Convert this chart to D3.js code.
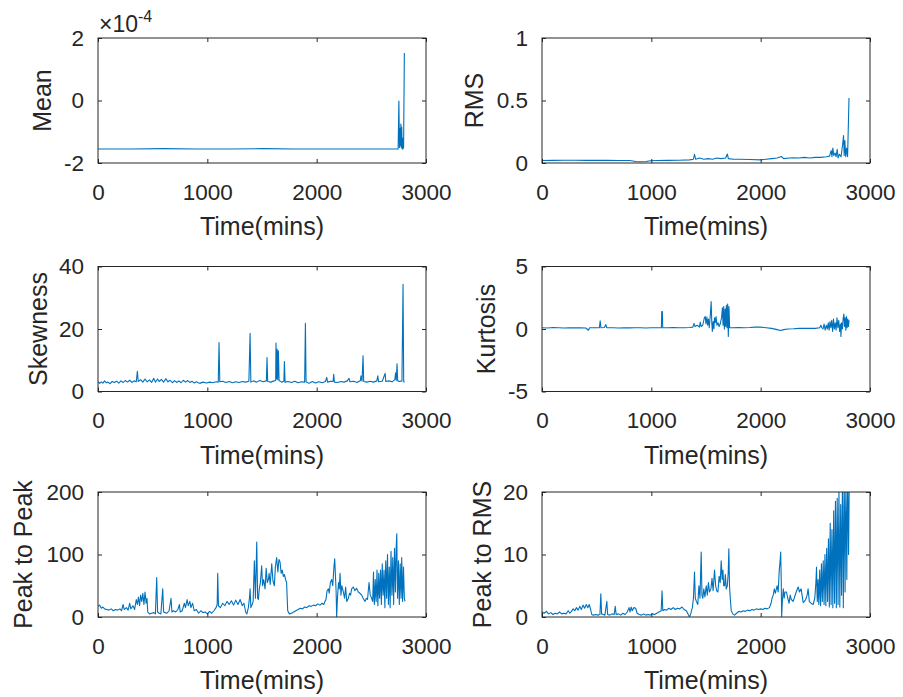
<!DOCTYPE html>
<html lang="en">
<head>
<meta charset="utf-8">
<title>signal features vs time</title>
<script src="https://d3js.org/d3.v7.min.js"></script>
<style>
  body { margin: 0; background: #fff; }
  svg { display: block; background: #fff; font-family: "Liberation Sans", Arial, sans-serif; }
</style>
</head>
<body>
<script>
// ---- data: [time (mins), value] ----
const timeTicks = [0, 1000, 2000, 3000];

// mean, in units of 1e-4
const meanTicks = [-2, 0, 2];
const meanPts = [[0,-1.55],[300,-1.55],[600,-1.54],[900,-1.55],[1200,-1.55],[1500,-1.54],[1800,-1.55],[2100,-1.55],[2400,-1.55],[2700,-1.55],[2745,-1.55],[2752,-0.02],[2757,-1.5],[2762,-0.9],[2766,-1.45],[2770,-0.75],[2774,-1.5],[2778,-0.85],[2782,-1.55],[2786,-1.2],[2790,-1.55],[2795,-1.5],[2802,1.52]];

const rmsTicks = [0, 0.5, 1];
const rmsPts = [[0,0.02],[100,0.021],[200,0.022],[300,0.022],[400,0.021],[500,0.022],[600,0.021],[700,0.02],[800,0.02],[860,0.012],[900,0.01],[950,0.012],[990,0.018],[1050,0.02],[1150,0.021],[1250,0.022],[1350,0.025],[1385,0.03],[1395,0.07],[1405,0.03],[1440,0.04],[1480,0.03],[1520,0.035],[1560,0.03],[1600,0.04],[1640,0.035],[1680,0.04],[1695,0.072],[1705,0.035],[1750,0.03],[1800,0.03],[1900,0.028],[2000,0.025],[2050,0.03],[2100,0.035],[2150,0.04],[2190,0.052],[2210,0.035],[2260,0.04],[2300,0.042],[2350,0.04],[2400,0.045],[2450,0.04],[2500,0.045],[2550,0.045],[2600,0.05],[2630,0.055],[2645,0.1],[2652,0.05],[2660,0.12],[2668,0.06],[2680,0.08],[2690,0.05],[2700,0.11],[2708,0.04],[2720,0.07],[2735,0.05],[2750,0.15],[2758,0.22],[2764,0.06],[2770,0.18],[2778,0.05],[2786,0.12],[2795,0.05],[2808,0.52]];

const skewTicks = [0, 20, 40];
const skewPts = [[0,3.2],[15,2.6],[30,3.1],[45,2.7],[60,3.4],[75,2.8],[90,3.0],[110,2.5],[130,3.2],[150,2.9],[170,3.3],[190,2.7],[210,3.4],[230,2.9],[250,3.5],[270,3.0],[290,3.6],[310,2.9],[330,3.4],[350,3.1],[360,6.5],[368,3.2],[390,3.8],[410,3.0],[430,4.0],[450,3.1],[470,3.7],[490,2.9],[510,4.2],[525,3.0],[545,4.0],[560,3.2],[580,3.9],[600,3.0],[620,4.1],[640,3.1],[660,3.6],[680,2.8],[700,3.5],[720,2.9],[740,3.4],[760,2.8],[780,3.6],[800,3.0],[820,3.5],[840,2.9],[860,3.3],[880,2.7],[900,3.1],[930,2.6],[960,3.0],[990,2.7],[1020,3.0],[1050,2.8],[1080,3.1],[1100,3.0],[1107,15.7],[1114,3.1],[1140,3.3],[1170,2.9],[1200,3.2],[1230,2.8],[1260,3.1],[1290,2.9],[1320,3.2],[1350,3.0],[1380,3.3],[1391,18.6],[1398,3.0],[1420,3.4],[1450,3.0],[1480,3.5],[1510,3.1],[1540,3.4],[1546,10.9],[1552,3.2],[1580,3.0],[1610,3.4],[1625,3.5],[1628,15.5],[1633,4],[1639,13.5],[1644,3.8],[1650,13],[1656,3.5],[1680,3.0],[1700,3.3],[1705,9.6],[1711,3.0],[1740,3.2],[1770,2.9],[1800,3.3],[1830,2.8],[1860,3.1],[1890,3.0],[1897,21.8],[1903,3.1],[1930,2.6],[1960,3.2],[1990,2.7],[2020,3.1],[2050,2.8],[2080,3.2],[2092,4.5],[2100,3.0],[2130,3.3],[2150,3.2],[2156,5.5],[2162,3.0],[2190,2.9],[2220,3.2],[2250,3.0],[2280,3.4],[2296,4.2],[2305,3.1],[2340,3.3],[2370,2.9],[2400,3.5],[2405,5.0],[2415,3.3],[2424,11.4],[2430,3.2],[2460,3.0],[2490,3.3],[2520,3.0],[2550,3.4],[2559,5.0],[2566,3.1],[2600,3.3],[2626,5.8],[2632,3.2],[2660,3.4],[2690,3.1],[2715,3.8],[2722,6.0],[2728,3.5],[2735,8.9],[2741,3.4],[2760,3.2],[2780,3.4],[2790,34.3],[2796,3.1],[2805,3.0]];

const kurtTicks = [-5, 0, 5];
const kurtPts = [[0,0.1],[50,0.08],[100,0.12],[150,0.1],[200,0.08],[250,0.1],[300,0.09],[350,0.1],[400,0.08],[425,-0.1],[435,0.1],[480,0.1],[525,0.1],[532,0.65],[539,0.1],[570,0.12],[584,0.35],[592,0.1],[650,0.1],[700,0.08],[750,0.1],[800,0.09],[850,0.1],[900,0.1],[950,0.08],[1000,0.1],[1050,0.1],[1092,0.1],[1095,1.4],[1101,1.4],[1104,0.1],[1150,0.1],[1200,0.12],[1250,0.1],[1300,0.1],[1350,0.12],[1380,0.15],[1390,0.45],[1400,0.2],[1420,0.3],[1440,0.15],[1447,0.55],[1455,0.2],[1470,0.3],[1485,0.9],[1493,1.0],[1500,0.4],[1508,0.95],[1515,0.3],[1522,0.8],[1530,0.1],[1540,1.2],[1547,2.2],[1553,0.5],[1558,-0.2],[1565,0.6],[1572,0.0],[1578,0.9],[1585,0.5],[1592,1.0],[1600,0.3],[1610,0.5],[1620,0.2],[1630,0.4],[1642,0.9],[1650,1.7],[1656,0.3],[1662,1.8],[1668,0.0],[1675,1.6],[1680,0.2],[1686,1.9],[1692,0.1],[1698,2.0],[1704,-0.6],[1710,1.8],[1716,0.1],[1740,0.1],[1800,0.12],[1850,0.1],[1900,0.12],[1950,0.15],[2000,0.15],[2050,0.1],[2100,0.05],[2150,-0.05],[2180,-0.12],[2210,-0.05],[2250,0.0],[2300,0.02],[2350,0.05],[2400,0.05],[2450,0.06],[2500,0.05],[2540,0.1],[2550,0.3],[2560,0.1],[2570,0.0],[2580,0.4],[2590,-0.1],[2600,0.3],[2610,0.0],[2618,0.5],[2626,-0.1],[2634,0.6],[2642,0.1],[2650,0.7],[2658,-0.2],[2666,0.8],[2674,0.0],[2682,0.5],[2690,-0.1],[2698,0.9],[2706,0.1],[2714,0.7],[2722,-0.2],[2730,0.4],[2734,-0.6],[2740,0.5],[2748,0.0],[2755,0.9],[2761,1.2],[2767,0.2],[2773,0.9],[2779,-0.1],[2785,1.0],[2791,0.1],[2797,0.8],[2803,0.2],[2808,0.7]];

const p2pTicks = [0, 100, 200];
const p2pPts = [[0,17],[15,19],[30,14],[45,16],[60,13],[80,12],[100,11],[120,13],[140,10],[160,12],[180,11],[200,13],[215,10],[230,20],[240,12],[260,15],[275,11],[290,22],[300,13],[320,18],[335,12],[350,28],[360,20],[370,32],[380,18],[390,35],[400,25],[410,38],[420,20],[430,40],[440,22],[448,30],[455,8],[470,5],[490,6],[510,7],[525,5],[537,63],[545,8],[560,6],[575,5],[592,45],[600,8],[615,7],[630,6],[650,10],[668,30],[676,8],[690,10],[710,8],[730,12],[745,20],[752,8],[770,10],[790,22],[800,15],[815,28],[825,18],[840,25],[850,15],[865,22],[880,10],[900,12],[920,6],[940,10],[960,7],[980,8],[1000,5],[1020,9],[1040,6],[1060,10],[1080,15],[1090,20],[1095,70],[1102,18],[1120,15],[1140,22],[1160,18],[1180,25],[1200,20],[1220,26],[1240,19],[1260,27],[1280,20],[1300,28],[1320,18],[1335,22],[1350,8],[1362,5],[1375,15],[1385,30],[1391,45],[1398,15],[1410,20],[1419,25],[1430,90],[1440,30],[1452,120],[1460,30],[1467,28],[1475,45],[1485,55],[1497,82],[1505,50],[1515,60],[1528,45],[1538,78],[1548,55],[1558,60],[1565,70],[1575,52],[1589,85],[1600,58],[1613,50],[1622,80],[1634,95],[1645,72],[1655,92],[1665,88],[1675,70],[1685,75],[1695,65],[1705,68],[1716,60],[1725,55],[1735,10],[1750,5],[1770,6],[1790,8],[1810,10],[1830,12],[1850,14],[1870,13],[1890,16],[1910,15],[1930,18],[1950,17],[1970,19],[1990,18],[2010,21],[2030,19],[2050,22],[2065,20],[2076,25],[2085,28],[2095,42],[2107,45],[2115,38],[2125,55],[2137,60],[2147,50],[2158,80],[2165,93],[2172,65],[2178,40],[2183,0],[2190,30],[2200,55],[2207,45],[2214,70],[2222,35],[2230,50],[2244,40],[2255,30],[2265,48],[2275,25],[2290,30],[2300,38],[2310,35],[2320,45],[2335,48],[2350,42],[2365,46],[2381,40],[2395,38],[2412,35],[2425,30],[2442,25],[2455,30],[2465,28],[2479,55],[2490,35],[2503,30],[2512,25],[2520,72],[2524,30],[2528,20],[2532,45],[2536,60],[2540,35],[2544,25],[2548,50],[2552,75],[2556,40],[2560,18],[2564,45],[2568,70],[2572,40],[2576,30],[2580,55],[2584,75],[2588,45],[2592,20],[2596,60],[2600,85],[2604,50],[2608,35],[2612,55],[2616,75],[2620,40],[2624,15],[2628,60],[2632,90],[2636,55],[2640,30],[2644,70],[2648,100],[2652,60],[2656,20],[2660,50],[2664,80],[2668,45],[2672,15],[2676,65],[2680,105],[2684,70],[2688,35],[2692,60],[2696,95],[2700,55],[2704,20],[2708,70],[2712,110],[2716,75],[2720,40],[2724,80],[2728,115],[2733,133],[2736,70],[2740,30],[2744,60],[2748,90],[2752,50],[2756,20],[2760,55],[2764,85],[2768,55],[2772,30],[2775,65],[2778,95],[2782,60],[2786,25],[2790,50],[2794,80],[2798,55],[2802,30],[2808,25]];

const p2rTicks = [0, 10, 20];
const p2rPts = [[0,0.8],[20,0.6],[40,0.9],[60,0.5],[80,0.7],[100,0.4],[120,0.6],[140,0.5],[160,0.8],[180,0.5],[200,0.6],[220,0.5],[240,1.0],[255,0.6],[270,0.9],[285,1.3],[300,1.0],[315,1.5],[330,1.1],[345,1.7],[360,1.2],[375,1.9],[390,1.4],[405,2.0],[420,1.5],[432,2.0],[445,1.2],[455,0.4],[470,0.3],[490,0.4],[510,0.3],[530,0.4],[538,3.7],[545,0.5],[560,0.4],[575,0.3],[593,2.5],[600,0.4],[620,0.3],[640,0.5],[660,0.4],[670,1.7],[678,0.4],[700,0.5],[720,0.3],[740,0.6],[760,0.4],[780,0.8],[796,1.5],[805,0.8],[815,1.6],[825,1.0],[840,1.5],[857,1.4],[870,0.6],[890,0.4],[910,0.3],[930,0.5],[950,0.3],[970,0.4],[990,0.3],[1010,0.5],[1030,0.4],[1050,0.6],[1070,0.8],[1090,1.0],[1098,4.2],[1105,1.0],[1120,1.2],[1140,1.1],[1160,1.4],[1180,1.2],[1200,1.5],[1220,1.2],[1240,1.4],[1260,1.3],[1280,1.6],[1300,1.2],[1320,1.0],[1335,0.5],[1349,0.0],[1360,0.5],[1375,1.5],[1385,3.0],[1395,7.2],[1402,3],[1412,2.5],[1425,2.0],[1435,5],[1445,3],[1456,10.4],[1463,3.5],[1471,3.0],[1480,4.5],[1490,3.2],[1502,5.0],[1512,3.5],[1522,5.5],[1532,4.0],[1545,4.5],[1555,6.2],[1565,4.2],[1578,7.5],[1588,5],[1598,4.2],[1609,4.0],[1620,6.5],[1630,5.5],[1639,9.0],[1648,6.0],[1655,7.5],[1662,5],[1670,5.0],[1677,6.8],[1685,4.5],[1695,5],[1703,7],[1709,10.9],[1715,5],[1722,3],[1731,1.0],[1745,0.5],[1761,0.3],[1780,0.6],[1800,0.9],[1820,0.8],[1840,1.0],[1860,0.9],[1880,1.1],[1900,1.0],[1920,1.2],[1940,1.1],[1960,1.3],[1980,1.2],[2000,1.3],[2020,1.2],[2040,1.4],[2060,1.3],[2080,1.5],[2095,2.2],[2104,3.0],[2115,3.5],[2125,4.5],[2135,3.8],[2150,5.0],[2160,4.0],[2170,7.5],[2178,9.0],[2183,10.4],[2188,6],[2192,0.1],[2198,2.5],[2207,4.5],[2215,3],[2222,4.0],[2236,4.0],[2248,3.0],[2260,2.2],[2270,3.5],[2280,2.8],[2297,2.5],[2310,3.2],[2325,4.0],[2343,4.8],[2355,4.0],[2370,4.5],[2389,2.3],[2400,2.5],[2412,2.8],[2425,3.5],[2434,4.5],[2445,2.5],[2460,2.2],[2480,2.0],[2495,3.0],[2505,5.5],[2511,8.0],[2515,4.0],[2518,2.5],[2522,4.5],[2525,6],[2529,3.5],[2532,2.0],[2536,5.0],[2540,7.5],[2544,4.0],[2548,1.8],[2552,5.5],[2556,8.5],[2560,5.0],[2564,2.5],[2568,6.0],[2572,9.0],[2576,5.5],[2580,2.0],[2584,6.5],[2588,10.0],[2592,6.0],[2596,1.8],[2600,7.0],[2604,11.0],[2608,6.5],[2612,2.5],[2616,8.0],[2620,12.5],[2624,7.0],[2628,1.6],[2632,9.0],[2636,15.0],[2640,8.0],[2644,2.0],[2648,9.5],[2652,14.0],[2656,8.0],[2660,1.5],[2664,10.0],[2668,17.0],[2672,9.0],[2676,2.2],[2680,11.0],[2684,18.5],[2688,10.0],[2692,1.5],[2696,12.0],[2700,19.0],[2704,10.0],[2708,2.0],[2712,13.0],[2716,20],[2720,11.0],[2724,1.6],[2728,11.0],[2732,18],[2736,10.0],[2740,3.5],[2744,14.0],[2748,21],[2752,12.0],[2756,1.5],[2760,13.0],[2764,22],[2768,14.0],[2772,4],[2776,15.0],[2780,21],[2784,14.0],[2788,6],[2792,16.0],[2796,22],[2800,16.0],[2804,10],[2810,21]];

// ---- layout ----
const W = 903, H = 697;
const colLeft = [98, 542];
const rowTop = [38, 266.5, 492];
const pw = 328, ph = 125;
const ink = "#262626";
const lineColor = "#0072BD";

const panels = [
  {pts: meanPts, ticks: meanTicks, label: "Mean",         col: 0, row: 0, labelX: 42,  exp: true},
  {pts: rmsPts,  ticks: rmsTicks,  label: "RMS",          col: 1, row: 0, labelX: 474},
  {pts: skewPts, ticks: skewTicks, label: "Skewness",     col: 0, row: 1, labelX: 37.5},
  {pts: kurtPts, ticks: kurtTicks, label: "Kurtosis",     col: 1, row: 1, labelX: 486},
  {pts: p2pPts,  ticks: p2pTicks,  label: "Peak to Peak", col: 0, row: 2, labelX: 23},
  {pts: p2rPts,  ticks: p2rTicks,  label: "Peak to RMS",  col: 1, row: 2, labelX: 482}
];

const svg = d3.select("body").append("svg").attr("width", W).attr("height", H);
const fmt = d => String(d);

panels.forEach((p, i) => {
  const x0 = colLeft[p.col], y0 = rowTop[p.row];
  const g = svg.append("g").attr("transform", `translate(${x0},${y0})`);

  const x = d3.scaleLinear().domain([timeTicks[0], timeTicks[timeTicks.length - 1]]).range([0, pw]);
  const y = d3.scaleLinear().domain([p.ticks[0], p.ticks[p.ticks.length - 1]]).range([ph, 0]);

  g.append("clipPath").attr("id", "clip" + i)
    .append("rect").attr("width", pw).attr("height", ph);

  const line = d3.line().x(d => x(d[0])).y(d => y(d[1]));
  g.append("path")
    .datum(p.pts)
    .attr("clip-path", `url(#clip${i})`)
    .attr("d", line)
    .attr("fill", "none")
    .attr("stroke", lineColor)
    .attr("stroke-width", 1.1)
    .attr("stroke-linejoin", "round");

  // axes, MATLAB style: inward ticks on all four sides
  const style = sel => {
    sel.select(".domain").remove();
    sel.selectAll("line").attr("stroke", ink);
    sel.selectAll("text").attr("fill", ink).style("font-size", "22.5px")
      .style("font-family", "'Liberation Sans', Arial, sans-serif");
  };
  g.append("g").attr("transform", `translate(0,${ph})`)
    .call(d3.axisBottom(x).tickValues(timeTicks).tickFormat(fmt).tickSize(-4).tickPadding(21))
    .call(style);
  g.append("g")
    .call(d3.axisTop(x).tickValues(timeTicks).tickFormat("").tickSize(-4))
    .call(style);
  g.append("g")
    .call(d3.axisLeft(y).tickValues(p.ticks).tickFormat(fmt).tickSize(-4).tickPadding(14))
    .call(style);
  g.append("g").attr("transform", `translate(${pw},0)`)
    .call(d3.axisRight(y).tickValues(p.ticks).tickFormat("").tickSize(-4))
    .call(style);

  g.append("rect")
    .attr("width", pw).attr("height", ph)
    .attr("fill", "none").attr("stroke", ink).attr("stroke-width", 1);

  // x label
  svg.append("text")
    .attr("x", x0 + pw / 2).attr("y", y0 + ph + 63)
    .attr("dy", "0.36em")
    .attr("text-anchor", "middle")
    .attr("fill", ink).style("font-size", "25px")
    .text("Time(mins)");

  // y label
  svg.append("text")
    .attr("transform", `translate(${p.labelX},${y0 + ph / 2}) rotate(-90)`)
    .attr("dy", "0.36em")
    .attr("text-anchor", "middle")
    .attr("fill", ink).style("font-size", "25px")
    .text(p.label);

  if (p.exp) {
    const t = svg.append("text")
      .attr("x", x0 + 1).attr("y", y0 - 6)
      .attr("fill", ink).style("font-size", "23px");
    t.append("tspan").text("\u00d710");
    t.append("tspan").attr("dy", -10).style("font-size", "16px").text("-4");
  }
});
</script>
</body>
</html>
